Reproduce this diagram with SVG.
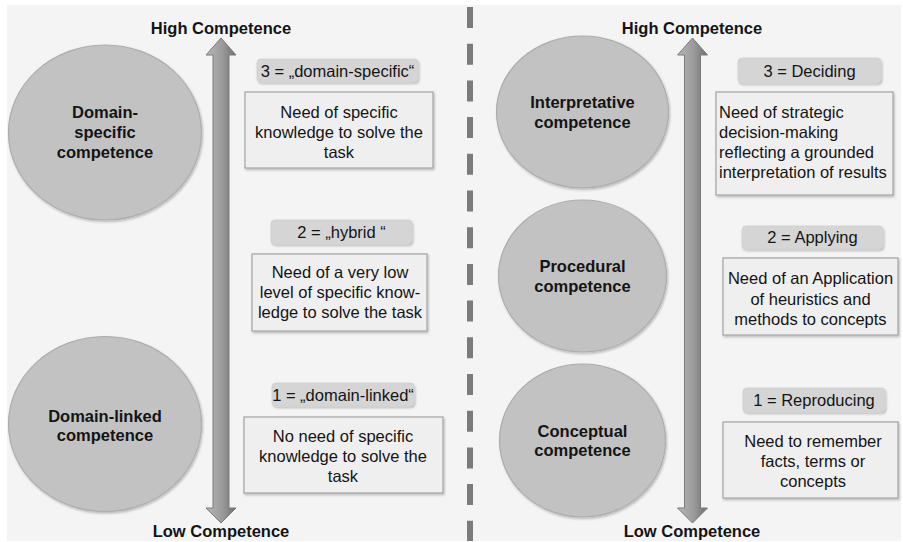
<svg xmlns="http://www.w3.org/2000/svg" width="903" height="542" viewBox="0 0 903 542">
<style>
.t{font-family:"Liberation Sans",Arial,sans-serif;fill:#141414}
.h{font-size:16.5px;font-weight:bold;text-anchor:middle}
.c{font-size:16.5px;font-weight:bold;text-anchor:middle}
.b{font-size:16.5px;text-anchor:middle}
.l{font-size:16.5px}
.circ{fill:#c2c2c2;stroke:#adadad;stroke-width:1.2}
.box{fill:#efefef;stroke:#a3a3a3;stroke-width:1.2}
.lab{fill:#d5d5d5;stroke:#cfcfcf;stroke-width:0.8}
.arr{fill:url(#ag);stroke:#7a7a7a;stroke-width:1}
</style>
<defs>
<linearGradient id="ag" x1="0" y1="0" x2="1" y2="0">
<stop offset="0" stop-color="#b8b8b8"/>
<stop offset="0.55" stop-color="#9a9a9a"/>
<stop offset="1" stop-color="#6e6e6e"/>
</linearGradient>
<filter id="sh" x="-10%" y="-10%" width="125%" height="125%">
<feDropShadow dx="1" dy="1.5" stdDeviation="1.2" flood-color="#000" flood-opacity="0.25"/>
</filter>
</defs>
<rect x="0" y="0" width="903" height="542" fill="#ffffff"/>
<rect x="7" y="5" width="894" height="536" fill="#f4f4f4"/>
<g id="connectors">
<line x1="470" y1="7" x2="470" y2="541" stroke="#7b7b7b" stroke-width="6" stroke-dasharray="21 15.7"/>
<path class="arr" d="M221,38 L236,55 L229,55 L229,508 L236,508 L221,523 L206,508 L213,508 L213,55 L206,55 Z"/>
<path class="arr" d="M692.5,38 L707.5,55 L700.5,55 L700.5,508 L707.5,508 L692.5,523 L677.5,508 L684.5,508 L684.5,55 L677.5,55 Z"/>
</g>
<g id="left-high"><text class="t h" x="221" y="34">High Competence</text></g>
<g id="left-low"><text class="t h" x="221" y="537">Low Competence</text></g>
<g id="right-high"><text class="t h" x="692" y="34">High Competence</text></g>
<g id="right-low"><text class="t h" x="692" y="537">Low Competence</text></g>

<g id="domain-specific">
<ellipse class="circ" cx="105" cy="132.5" rx="96.5" ry="87.5" filter="url(#sh)"/>
<text class="t c" x="105" y="118">Domain-</text>
<text class="t c" x="105" y="138">specific</text>
<text class="t c" x="105" y="158">competence</text>
</g>
<g id="domain-linked">
<ellipse class="circ" cx="105" cy="424" rx="96.5" ry="87.5" filter="url(#sh)"/>
<text class="t c" x="105" y="422">Domain-linked</text>
<text class="t c" x="105" y="441">competence</text>
</g>

<g id="label-3-left">
<rect class="lab" x="257" y="59" width="161" height="23" rx="4" filter="url(#sh)"/>
<text class="t b" x="337.5" y="77">3 = „domain-specific“</text>
</g>
<g id="box-3-left">
<rect class="box" x="245" y="92" width="188" height="76" filter="url(#sh)"/>
<text class="t b" x="339" y="118">Need of specific</text>
<text class="t b" x="339" y="138">knowledge to solve the</text>
<text class="t b" x="339" y="158">task</text>
</g>
<g id="label-2-left">
<rect class="lab" x="271" y="220" width="141" height="24" rx="4" filter="url(#sh)"/>
<text class="t b" x="341.5" y="238">2 = „hybrid “</text>
</g>
<g id="box-2-left">
<rect class="box" x="252" y="254" width="175" height="77" filter="url(#sh)"/>
<text class="t b" x="340" y="278">Need of a very low</text>
<text class="t b" x="340" y="298">level of specific know-</text>
<text class="t b" x="340" y="318">ledge to solve the task</text>
</g>
<g id="label-1-left">
<rect class="lab" x="272" y="383" width="142" height="23" rx="4" filter="url(#sh)"/>
<text class="t b" x="343" y="401">1 = „domain-linked“</text>
</g>
<g id="box-1-left">
<rect class="box" x="244" y="417" width="199" height="76" filter="url(#sh)"/>
<text class="t b" x="343" y="442">No need of specific</text>
<text class="t b" x="343" y="462">knowledge to solve the</text>
<text class="t b" x="343" y="482">task</text>
</g>

<g id="interpretative">
<ellipse class="circ" cx="582.5" cy="112" rx="86" ry="76" filter="url(#sh)"/>
<text class="t c" x="582.5" y="108">Interpretative</text>
<text class="t c" x="582.5" y="128">competence</text>
</g>
<g id="procedural">
<ellipse class="circ" cx="582.5" cy="276" rx="84" ry="76" filter="url(#sh)"/>
<text class="t c" x="582.5" y="272">Procedural</text>
<text class="t c" x="582.5" y="292">competence</text>
</g>
<g id="conceptual">
<ellipse class="circ" cx="582.5" cy="440.5" rx="83" ry="76.5" filter="url(#sh)"/>
<text class="t c" x="582.5" y="437">Conceptual</text>
<text class="t c" x="582.5" y="456">competence</text>
</g>

<g id="label-3-right">
<rect class="lab" x="738" y="58" width="143" height="25" rx="4" filter="url(#sh)"/>
<text class="t b" x="809.5" y="77">3 = Deciding</text>
</g>
<g id="box-3-right">
<rect class="box" x="716" y="92" width="177" height="103" filter="url(#sh)"/>
<text class="t l" x="719" y="118">Need of strategic</text>
<text class="t l" x="719" y="138">decision-making</text>
<text class="t l" x="719" y="158">reflecting a grounded</text>
<text class="t l" x="719" y="178">interpretation of results</text>
</g>
<g id="label-2-right">
<rect class="lab" x="742" y="226" width="141" height="23" rx="4" filter="url(#sh)"/>
<text class="t b" x="812.5" y="243">2 = Applying</text>
</g>
<g id="box-2-right">
<rect class="box" x="723" y="258" width="175" height="77" filter="url(#sh)"/>
<text class="t b" x="810.5" y="284">Need of an Application</text>
<text class="t b" x="810.5" y="305">of heuristics and</text>
<text class="t b" x="810.5" y="325">methods to concepts</text>
</g>
<g id="label-1-right">
<rect class="lab" x="743" y="388" width="142" height="24" rx="4" filter="url(#sh)"/>
<text class="t b" x="814" y="406">1 = Reproducing</text>
</g>
<g id="box-1-right">
<rect class="box" x="723" y="422" width="175" height="76" filter="url(#sh)"/>
<text class="t b" x="813" y="447">Need to remember</text>
<text class="t b" x="813" y="467">facts, terms or</text>
<text class="t b" x="813" y="487">concepts</text>
</g>
</svg>
